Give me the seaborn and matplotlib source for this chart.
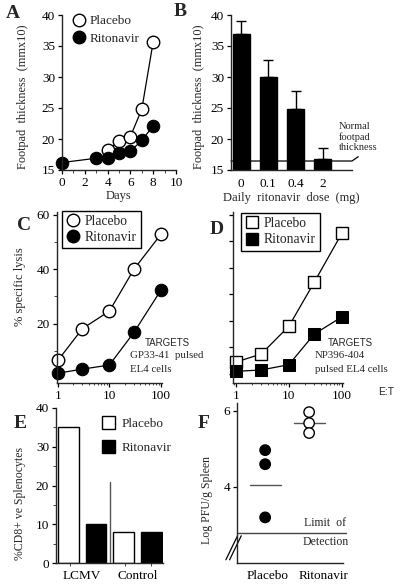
import numpy as np
import pandas as pd
import matplotlib
matplotlib.use("Agg")
import matplotlib.pyplot as plt
from matplotlib.lines import Line2D
from matplotlib.patches import Patch
from matplotlib.ticker import FixedLocator, NullFormatter
import seaborn as sns

# ── data ───────────────────────────────────────────────────────────────────────
# A: footpad swelling over time
a_days_placebo = [4, 5, 6, 7, 8]
a_placebo = [18.2, 19.7, 20.4, 24.8, 35.7]
a_days_rito = [0, 3, 4, 5, 6, 7, 8]
a_rito = [16.2, 16.9, 16.9, 17.8, 18.0, 19.8, 22.1]

# B: dose response
b_doses = ["0", "0.1", "0.4", "2"]
b_means = [37.0, 30.0, 24.8, 16.8]
b_errs = [2.0, 2.8, 3.0, 1.8]
b_normal = 16.45

# C / D: cytotoxicity vs E:T ratio
et_ratio = [1, 3, 10, 30, 100]
c_placebo = [6.5, 18.2, 24.6, 40.0, 52.8]
c_rito = [1.8, 3.3, 4.8, 16.8, 32.3]
d_placebo = [4.5, 7.5, 18.0, 34.5, 53.0]
d_rito = [1.0, 1.5, 3.5, 15.0, 21.5]

# E: %CD8+ splenocytes
e_groups = ["LCMV", "LCMV", "Control", "Control"]
e_treat = ["Placebo", "Ritonavir", "Placebo", "Ritonavir"]
e_values = [35.0, 10.0, 8.0, 8.0]

# F: viral titres
f_groups = ["Placebo", "Placebo", "Placebo", "Ritonavir", "Ritonavir", "Ritonavir"]
f_values = [4.97, 4.6, 3.2, 5.97, 5.68, 5.42]
f_means = [4.05, 5.68]
f_limit = 2.79

# ── layout helpers ─────────────────────────────────────────────────────────────
W, H = 400, 588


def rect(x0, y0, x1, y1):
    return [x0 / W, 1 - y1 / H, (x1 - x0) / W, (y1 - y0) / H]


def fpos(x, y):
    return (x / W, 1 - y / H)


sns.set_style("ticks")
plt.rcParams["font.family"] = ["Liberation Serif", "DejaVu Serif"]
plt.rcParams["xtick.direction"] = "out"
plt.rcParams["ytick.direction"] = "out"
plt.rcParams["xtick.major.size"] = 3
plt.rcParams["ytick.major.size"] = 3
plt.rcParams["xtick.minor.size"] = 2
plt.rcParams["ytick.minor.size"] = 2
plt.rcParams["axes.linewidth"] = 1.0

fig = plt.figure(figsize=(W / 100, H / 100), dpi=100)

TICK = 9.5
LAB = 9


def style(ax):
    sns.despine(ax=ax)
    ax.tick_params(colors="black", width=0.9, labelsize=TICK, pad=2)


def ylab(x, y, text, size=LAB):
    fig.text(*fpos(x, y), text, fontsize=size, rotation=90,
             ha="center", va="center")


# ── A ──────────────────────────────────────────────────────────────────────────
ax = fig.add_axes(rect(62, 15, 176, 170))
sns.lineplot(x=a_days_placebo, y=a_placebo, ax=ax, color="black", lw=0.9,
             marker="o", markersize=9, markerfacecolor="white",
             markeredgecolor="black", markeredgewidth=1, clip_on=False)
sns.lineplot(x=a_days_rito, y=a_rito, ax=ax, color="black", lw=0.9,
             marker="o", markersize=9, markerfacecolor="black",
             markeredgecolor="black", clip_on=False)
ax.set_xlim(0, 10)
ax.set_ylim(15, 40)
ax.set_xticks([0, 2, 4, 6, 8, 10])
ax.set_yticks([15, 20, 25, 30, 35, 40])
ax.xaxis.set_minor_locator(FixedLocator([1, 3, 5, 7, 9]))
style(ax)
ax.set_xlabel("Days", fontsize=LAB, labelpad=1)
ylab(23, 97, "Footpad  thickness  (mmx10)", size=8.8)
handles = [
    Line2D([], [], ls="none", marker="o", markersize=9, markerfacecolor="white",
           markeredgecolor="black"),
    Line2D([], [], ls="none", marker="o", markersize=9, markerfacecolor="black",
           markeredgecolor="black"),
]
ax.legend(handles, ["Placebo", "Ritonavir"], loc="upper left",
          bbox_to_anchor=fpos(72, 15), bbox_transform=fig.transFigure,
          frameon=False, fontsize=9.5, handlelength=1, handletextpad=0.3,
          borderpad=0, borderaxespad=0, labelspacing=0.4)

# ── B ──────────────────────────────────────────────────────────────────────────
ax = fig.add_axes(rect(231, 15, 352, 170))
sns.barplot(x=b_doses, y=b_means, ax=ax, color="black", width=0.62,
            edgecolor="black", saturation=1)
ax.errorbar(x=np.arange(len(b_doses)), y=b_means,
            yerr=[np.zeros(len(b_errs)), b_errs], fmt="none",
            ecolor="black", elinewidth=1, capsize=3.5, capthick=1)
ax.set_xlim(-0.37, 4.07)
ax.set_ylim(15, 40)
ax.set_yticks([15, 20, 25, 30, 35, 40])
style(ax)
ax.tick_params(axis="x", length=0, pad=6)
ax.plot([-0.37, 4.07, 4.3], [b_normal, b_normal, b_normal + 0.7],
        color="black", lw=0.9, clip_on=False)
ax.set_xlabel("Daily  ritonavir  dose  (mg)", fontsize=LAB, labelpad=1)
ylab(199, 97, "Footpad  thickness  (mmx10)", size=8.8)
fig.text(*fpos(339, 122), "Normal\nfootpad\nthickness", fontsize=7.5,
         ha="left", va="top", linespacing=1.15)

# ── C ──────────────────────────────────────────────────────────────────────────
ax = fig.add_axes(rect(57, 212, 162, 383))
sns.lineplot(x=et_ratio, y=c_placebo, ax=ax, color="black", lw=0.9,
             marker="o", markersize=9, markerfacecolor="white",
             markeredgecolor="black", markeredgewidth=1, clip_on=False)
sns.lineplot(x=et_ratio, y=c_rito, ax=ax, color="black", lw=0.9,
             marker="o", markersize=9, markerfacecolor="black",
             markeredgecolor="black", clip_on=False)
ax.set_xscale("log")
ax.set_xlim(0.96, 105)
ax.set_ylim(-1.8, 61)
ax.set_xticks([1, 10, 100])
ax.set_xticklabels(["1", "10", "100"])
ax.xaxis.set_minor_formatter(NullFormatter())
ax.set_yticks([20, 40, 60])
ax.yaxis.set_minor_locator(FixedLocator([10, 30, 50]))
style(ax)
ax.tick_params(axis="x", which="minor", length=1.5)
ylab(20, 287, "% specific lysis")
ax.legend(handles, ["Placebo", "Ritonavir"], loc="upper left",
          bbox_to_anchor=fpos(62, 211), bbox_transform=fig.transFigure,
          frameon=True, fancybox=False, edgecolor="black", framealpha=1,
          fontsize=9.8, handlelength=1, handletextpad=0.4, borderpad=0.3,
          borderaxespad=0, labelspacing=0.2)
ax.get_legend().get_frame().set_linewidth(1)
fig.text(*fpos(145, 343), "TARGETS", fontsize=7, family="Liberation Sans",
         ha="left", va="center")
fig.text(*fpos(130, 356), "GP33-41  pulsed", fontsize=7.8, ha="left", va="center")
fig.text(*fpos(130, 369), "EL4 cells", fontsize=7.8, ha="left", va="center")

# ── D ──────────────────────────────────────────────────────────────────────────
ax = fig.add_axes(rect(233, 212, 343, 383))
sns.lineplot(x=et_ratio, y=d_placebo, ax=ax, color="black", lw=0.9,
             marker="s", markersize=9, markerfacecolor="white",
             markeredgecolor="black", markeredgewidth=1, clip_on=False)
sns.lineplot(x=et_ratio, y=d_rito, ax=ax, color="black", lw=0.9,
             marker="s", markersize=9, markerfacecolor="black",
             markeredgecolor="black", clip_on=False)
ax.set_xscale("log")
ax.set_xlim(0.88, 105)
ax.set_ylim(-3.4, 61)
ax.set_xticks([1, 10, 100])
ax.set_xticklabels(["1", "10", "100"])
ax.xaxis.set_minor_formatter(NullFormatter())
ax.set_yticks([0, 10, 20, 30, 40, 50, 60])
ax.set_yticklabels([])
style(ax)
ax.tick_params(axis="x", which="minor", length=1.5)
sq_handles = [
    Line2D([], [], ls="none", marker="s", markersize=9, markerfacecolor="white",
           markeredgecolor="black"),
    Line2D([], [], ls="none", marker="s", markersize=9, markerfacecolor="black",
           markeredgecolor="black"),
]
ax.legend(sq_handles, ["Placebo", "Ritonavir"], loc="upper left",
          bbox_to_anchor=fpos(241, 213), bbox_transform=fig.transFigure,
          frameon=True, fancybox=False, edgecolor="black", framealpha=1,
          fontsize=9.8, handlelength=1, handletextpad=0.4, borderpad=0.3,
          borderaxespad=0, labelspacing=0.25)
ax.get_legend().get_frame().set_linewidth(1)
fig.text(*fpos(328, 343), "TARGETS", fontsize=7, family="Liberation Sans",
         ha="left", va="center")
fig.text(*fpos(315, 356), "NP396-404", fontsize=7.8, ha="left", va="center")
fig.text(*fpos(315, 370), "pulsed EL4 cells", fontsize=7.8, ha="left", va="center")
fig.text(*fpos(378, 392), "E:T", fontsize=7.5, family="Liberation Sans",
         ha="left", va="center")

# ── E ──────────────────────────────────────────────────────────────────────────
ax = fig.add_axes(rect(56, 408, 163, 563))
e_df = pd.DataFrame({"group": e_groups, "treatment": e_treat, "value": e_values})
sns.barplot(data=e_df, x="group", y="value", hue="treatment",
            order=["LCMV", "Control"], hue_order=["Placebo", "Ritonavir"],
            palette={"Placebo": "white", "Ritonavir": "black"},
            edgecolor="black", linewidth=1, width=1.0, gap=0.25,
            saturation=1, legend=False, ax=ax)
ax.set_xlim(-0.47, 1.46)
ax.set_ylim(0, 40)
ax.set_yticks([0, 10, 20, 30, 40])
ax.yaxis.set_minor_locator(FixedLocator([5, 15, 25, 35]))
ax.xaxis.set_minor_locator(FixedLocator([-0.22, 0.78, 1.25]))
style(ax)
ax.tick_params(axis="x", which="major", length=0, pad=5)
ax.plot([0.505, 0.505], [0, 21], color="#555555", lw=1)
ax.set_xlabel("")
ax.set_ylabel("")
ylab(20, 504, "%CD8+ ve Splenocytes", size=8.5)
e_handles = [Patch(facecolor="white", edgecolor="black", lw=1),
             Patch(facecolor="black", edgecolor="black", lw=1)]
ax.legend(e_handles, ["Placebo", "Ritonavir"], loc="upper left",
          bbox_to_anchor=fpos(102, 416), bbox_transform=fig.transFigure,
          frameon=False, fontsize=9.5, handlelength=1.0, handleheight=1.1,
          handletextpad=0.5, borderpad=0, borderaxespad=0, labelspacing=0.8)

# ── F ──────────────────────────────────────────────────────────────────────────
ax = fig.add_axes(rect(237, 403, 343, 563))
f_df = pd.DataFrame({"group": f_groups, "value": f_values})
sns.stripplot(data=f_df, x="group", y="value", hue="group",
              order=["Placebo", "Ritonavir"],
              palette={"Placebo": "black", "Ritonavir": "white"},
              edgecolor="black", linewidth=1, size=7.5, jitter=False,
              legend=False, ax=ax, zorder=3)
for i, m in enumerate(f_means):
    ax.plot([i - 0.35, i + 0.35], [m, m], color="#555555", lw=1)
ax.axhline(f_limit, color="#444444", lw=1, xmax=1.03, clip_on=False)
ax.set_xlim(-0.64, 1.77)
ax.set_ylim(2, 6.21)
ax.set_yticks([4, 6])
ax.set_xticks([0.05, 1.32])
ax.set_xticklabels(["Placebo", "Ritonavir"])
style(ax)
ax.tick_params(axis="x", length=0, pad=5)
ax.set_xlabel("")
ax.set_ylabel("")
ylab(207, 500, "Log PFU/g Spleen", size=8.5)
ax.text(1.37, 3.05, "Limit  of", fontsize=8.5, ha="center", va="center")
ax.text(1.37, 2.55, "Detection", fontsize=8.5, ha="center", va="center")
for dx in (-0.035, 0.0):
    ax.plot([-0.07 + dx, 0.04 + dx], [0.02, 0.17], transform=ax.transAxes,
            color="black", lw=0.9, clip_on=False)

# ── panel letters ──────────────────────────────────────────────────────────────
for lbl, (x, y) in {"A": (6, 13), "B": (174, 12), "C": (17, 225),
                    "D": (210, 229), "E": (14, 423), "F": (198, 423)}.items():
    fig.text(*fpos(x, y), lbl, fontsize=14, fontweight="bold",
             ha="left", va="center")

fig.savefig("out.png", dpi=100)
plt.close(fig)
